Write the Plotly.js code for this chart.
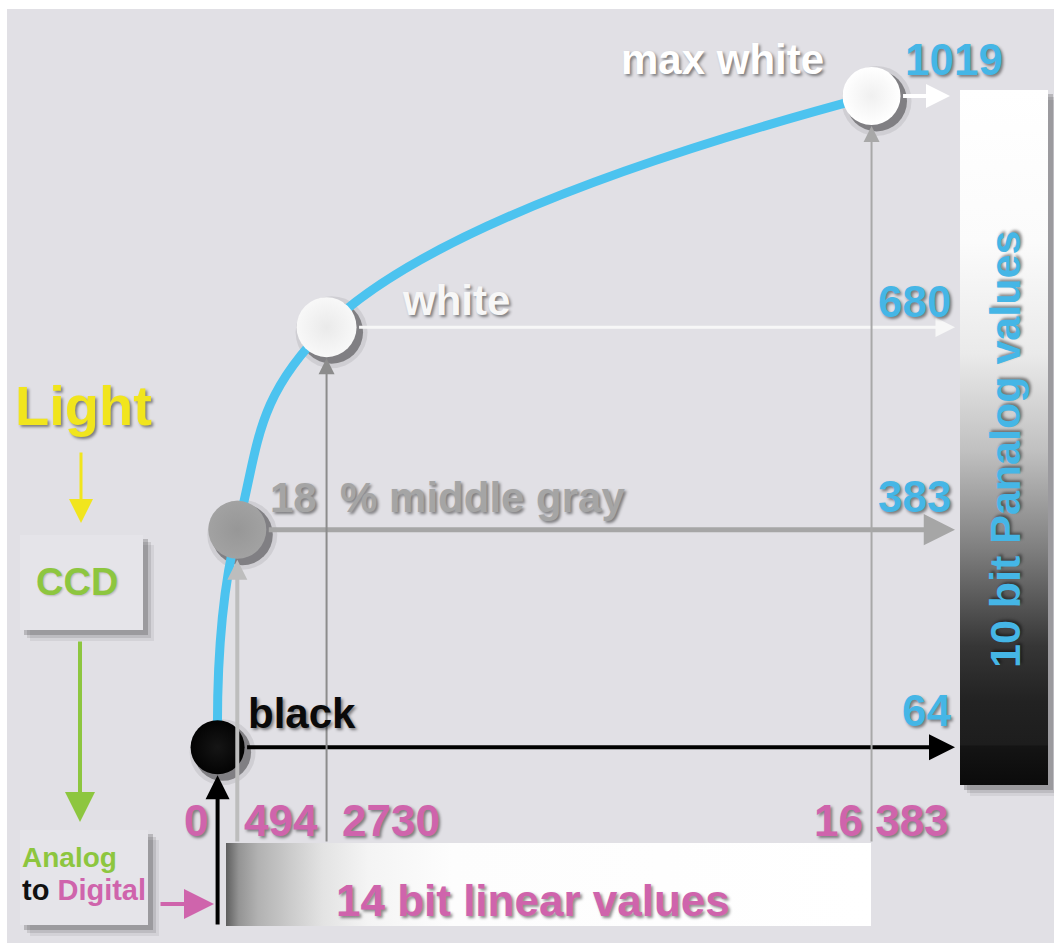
<!DOCTYPE html>
<html>
<head>
<meta charset="utf-8">
<script src="https://cdn.plot.ly/plotly-3.0.1.min.js"></script>
<style>html,body{margin:0;padding:0;background:#fff;}#chart{width:1054px;height:943px;}</style>
</head>
<body>
<div id="chart"></div>
<script>
// ---------- data ----------
const pointNames = ['black', '18  % middle gray', 'white', 'max white'];
const linearValues = [0, 494, 2730, 16383];          // 14 bit linear values
const panalogValues = [64, 383, 680, 1019];          // 10 bit Panalog values
const linearTickLabels = ['0', '494', '2730', '16 383'];
const panalogTickLabels = ['64', '383', '680', '1019'];

// ---------- styles ----------
const W = 1054, H = 943;
const XR = [-5451, 20954], YR = [-222.9, 1159.6];
const FONT = 'Liberation Sans, Arial, Helvetica, sans-serif';
const BLUE = '#45b6e6', PINK = '#cf64ac', GREEN = '#8dc63f', YELLOW = '#f1e51d';
const dotSizes = [54, 58, 60, 58];
const dotColors = ['#030303', '#a2a2a2', '#f8f8f8', '#ffffff'];
const dotEdge = ['#151515', '#979797', '#eaeaea', '#f0f0f0'];
const labelColors = ['#0a0a0a', '#a5a5a5', '#f7f7f7', '#ffffff'];
const labelOffsets = [[28, 34, 'left'], [31, 32, 'left'], [73, 27, 'left'], [-46, 36, 'right']];
const hArrowStyle = [['#000000', 4, 1.3], ['#a6a6a6', 5, 1.25], ['#f7f7f7', 3, 1.3], ['#ffffff', 4, 1.2]];
const vArrowStyle = [['#000000', 4, 1.2], ['#bdbdbd', 4, 1.0], ['#8c8c8c', 2, 1.6], ['#a8a8a8', 2, 1.6]];
const SHADOW = '2px 2px 3px rgba(0,0,0,0.45)';

// pixel -> data / paper helpers (plot area = whole figure)
const dx = px => XR[0] + px / W * (XR[1] - XR[0]);
const dy = py => YR[1] - py / H * (YR[1] - YR[0]);
const fx = px => px / W;
const fy = py => 1 - py / H;

// shadow axes: shifted so that marks appear offset down-right
const sh = 5;
const XR2 = [XR[0] - sh * (XR[1] - XR[0]) / W, XR[1] - sh * (XR[1] - XR[0]) / W];
const YR2 = [YR[0] + sh * (YR[1] - YR[0]) / H, YR[1] + sh * (YR[1] - YR[0]) / H];

function rect(px0, py0, px1, py1, color) {
  return {type: 'rect', xref: 'paper', yref: 'paper', layer: 'below',
    x0: fx(px0), x1: fx(px1), y0: fy(py1), y1: fy(py0),
    fillcolor: color, line: {width: 0}};
}
function softShadow(px0, py0, px1, py1) {
  return [
    rect(px0 + 10, py0 + 10, px1 + 11, py1 + 11, 'rgba(0,0,0,0.06)'),
    rect(px0 + 7, py0 + 7, px1 + 8, py1 + 8, 'rgba(0,0,0,0.10)'),
    rect(px0 + 4, py0 + 4, px1 + 5, py1 + 5, 'rgba(0,0,0,0.18)')
  ];
}

const shapes = [
  rect(7, 9, W, H, '#e1e0e5'),
  ...softShadow(960, 90, 1048, 785),
  ...softShadow(20, 535, 143, 630),
  rect(20, 535, 143, 630, '#e5e4e9'),
  ...softShadow(20, 830, 148, 925),
  rect(20, 830, 148, 925, '#e5e4e9')
];

// ---------- traces ----------
const traces = [];
// Panalog gradient bar (vertical)
traces.push({
  type: 'scatter', mode: 'none', xaxis: 'x', yaxis: 'y', hoverinfo: 'skip', showlegend: false,
  x: [dx(960), dx(1048), dx(1048), dx(960), dx(960)],
  y: [dy(90), dy(90), dy(785), dy(785), dy(90)],
  fill: 'toself',
  fillgradient: {type: 'vertical', colorscale: [
    [0, '#0b0b0b'], [0.056, '#141414'], [0.058, '#1d1d1d'], [0.12, '#222222'],
    [0.2, '#363636'], [0.34, '#7f7f7f'], [0.48, '#c0c0c0'], [0.62, '#eaeaea'],
    [0.78, '#fbfbfb'], [1, '#ffffff']]}
});
// linear gradient bar (horizontal)
traces.push({
  type: 'scatter', mode: 'none', xaxis: 'x', yaxis: 'y', hoverinfo: 'skip', showlegend: false,
  x: [dx(226), dx(871), dx(871), dx(226), dx(226)],
  y: [dy(843), dy(843), dy(926), dy(926), dy(843)],
  fill: 'toself',
  fillgradient: {type: 'horizontal', colorscale: [
    [0, '#5e5e5e'], [0.02, '#949494'], [0.05, '#b2b2b2'], [0.1, '#cbcbcb'],
    [0.15, '#e3e3e3'], [0.22, '#f4f4f4'], [0.35, '#fdfdfd'], [1, '#ffffff']]}
});
// dot shadows
traces.push({
  type: 'scatter', mode: 'markers', xaxis: 'x2', yaxis: 'y2', hoverinfo: 'skip', showlegend: false,
  x: linearValues, y: panalogValues,
  marker: {size: dotSizes.map(s => s + 12), color: 'rgba(0,0,0,0.08)', opacity: 1, line: {width: 0}}
});
traces.push({
  type: 'scatter', mode: 'markers', xaxis: 'x2', yaxis: 'y2', hoverinfo: 'skip', showlegend: false,
  x: linearValues, y: panalogValues,
  marker: {size: dotSizes.map(s => s + 3), color: 'rgba(0,0,0,0.38)', opacity: 1, line: {width: 0}}
});
// the curve
traces.push({
  type: 'scatter', mode: 'lines', xaxis: 'x3', yaxis: 'y3', hoverinfo: 'skip', showlegend: false,
  x: linearValues, y: panalogValues,
  line: {color: '#4cc3ef', width: 9, shape: 'spline', smoothing: 1.2}
});
// the dots
traces.push({
  type: 'scatter', mode: 'markers', xaxis: 'x3', yaxis: 'y3', hoverinfo: 'skip', showlegend: false,
  x: linearValues, y: panalogValues, text: pointNames,
  marker: {size: dotSizes, color: dotColors, opacity: 1, line: {width: 0},
    gradient: {type: 'radial', color: dotEdge}}
});

// ---------- annotations ----------
const ann = [];
function txt(o) {
  return Object.assign({showarrow: false, font: {family: FONT, size: 42, weight: 'bold', color: '#000', shadow: SHADOW}}, o);
}
// horizontal arrows to the Panalog bar
const hTip = [955, 955, 955, 950];
linearValues.forEach((v, i) => {
  ann.push({x: dx(hTip[i]), y: panalogValues[i], xref: 'x', yref: 'y',
    ax: v, ay: panalogValues[i], axref: 'x', ayref: 'y', text: '', showarrow: true,
    arrowhead: 2, arrowsize: hArrowStyle[i][2], arrowwidth: hArrowStyle[i][1], arrowcolor: hArrowStyle[i][0],
    startstandoff: dotSizes[i] / 2 + 1});
});
// vertical arrows from the linear bar
linearValues.forEach((v, i) => {
  ann.push({x: v, y: panalogValues[i], xref: 'x', yref: 'y',
    ax: v, ay: dy(i === 0 ? 926 : 843), axref: 'x', ayref: 'y', text: '', showarrow: true,
    arrowhead: 2, arrowsize: vArrowStyle[i][2], arrowwidth: vArrowStyle[i][1], arrowcolor: vArrowStyle[i][0],
    standoff: dotSizes[i] / 2 + 1});
});
// point labels
pointNames.forEach((n, i) => {
  ann.push(txt({text: n, x: linearValues[i], y: panalogValues[i], xref: 'x', yref: 'y',
    xanchor: labelOffsets[i][2], yanchor: 'middle', xshift: labelOffsets[i][0], yshift: labelOffsets[i][1],
    font: {family: FONT, size: 42, weight: 'bold', color: labelColors[i], shadow: SHADOW}}));
});
// Panalog value labels (blue)
const blueRight = [953, 953, 953, 1005];
const blueShift = [37, 33, 26, 36];
panalogTickLabels.forEach((t, i) => {
  ann.push(txt({text: t, x: fx(blueRight[i]), xref: 'paper', y: panalogValues[i], yref: 'y',
    xanchor: 'right', yanchor: 'middle', yshift: blueShift[i],
    font: {family: FONT, size: 44, weight: 'bold', color: BLUE, shadow: SHADOW}}));
});
// linear value labels (pink)
const pinkAnchor = [['right', -8], ['left', 5], ['left', 13], ['center', 10]];
linearTickLabels.forEach((t, i) => {
  ann.push(txt({text: t, x: linearValues[i], xref: 'x', y: fy(820), yref: 'paper',
    xanchor: pinkAnchor[i][0], yanchor: 'middle', xshift: pinkAnchor[i][1],
    font: {family: FONT, size: 44, weight: 'bold', color: PINK, shadow: SHADOW}}));
});
// axis titles
ann.push(txt({text: '10 bit Panalog values', x: fx(1005), y: fy(450), xref: 'paper', yref: 'paper',
  textangle: -90, xanchor: 'center', yanchor: 'middle',
  font: {family: FONT, size: 43, weight: 'bold', color: BLUE, shadow: SHADOW}}));
ann.push(txt({text: '14 bit linear values', x: fx(533), y: fy(900), xref: 'paper', yref: 'paper',
  xanchor: 'center', yanchor: 'middle',
  font: {family: FONT, size: 44, weight: 'bold', color: PINK, shadow: SHADOW}}));
// left flow
ann.push(txt({text: 'Light', x: fx(83), y: fy(405), xref: 'paper', yref: 'paper',
  xanchor: 'center', yanchor: 'middle',
  font: {family: FONT, size: 56, weight: 'bold', color: YELLOW, shadow: SHADOW}}));
ann.push(txt({text: 'CCD', x: fx(77), y: fy(582), xref: 'paper', yref: 'paper',
  xanchor: 'center', yanchor: 'middle',
  font: {family: FONT, size: 38, weight: 'bold', color: GREEN, shadow: '1px 1px 2px rgba(0,0,0,0.2)'}}));
ann.push(txt({text: 'Analog', x: fx(20), y: fy(857), xref: 'paper', yref: 'paper',
  xanchor: 'left', yanchor: 'middle',
  font: {family: FONT, size: 28, weight: 'bold', color: GREEN, shadow: 'none'}}));
ann.push(txt({text: '<span style="color:#111111">to</span> <span style="color:' + PINK + '">Digital</span>',
  x: fx(20), y: fy(890), xref: 'paper', yref: 'paper', xanchor: 'left', yanchor: 'middle',
  font: {family: FONT, size: 29, weight: 'bold', color: '#111', shadow: 'none'}}));
// flow arrows
ann.push({x: fx(81), y: fy(523), xref: 'paper', yref: 'paper', ax: 0, ay: -72, text: '',
  showarrow: true, arrowhead: 2, arrowsize: 1.6, arrowwidth: 3, arrowcolor: YELLOW});
ann.push({x: fx(80), y: fy(822), xref: 'paper', yref: 'paper', ax: 0, ay: -182, text: '',
  showarrow: true, arrowhead: 2, arrowsize: 1.5, arrowwidth: 4, arrowcolor: GREEN});
ann.push({x: fx(214), y: fy(904), xref: 'paper', yref: 'paper', ax: -55, ay: 0, text: '',
  showarrow: true, arrowhead: 2, arrowsize: 1.5, arrowwidth: 4, arrowcolor: PINK});

const ax = r => ({range: r, visible: false, fixedrange: true, showgrid: false, zeroline: false});
const layout = {
  width: W, height: H, margin: {l: 0, r: 0, t: 0, b: 0, pad: 0},
  paper_bgcolor: '#ffffff', plot_bgcolor: 'rgba(0,0,0,0)', showlegend: false,
  xaxis: ax(XR), yaxis: ax(YR),
  xaxis2: Object.assign(ax(XR2), {overlaying: 'x'}), yaxis2: Object.assign(ax(YR2), {overlaying: 'y'}),
  xaxis3: Object.assign(ax(XR), {overlaying: 'x'}), yaxis3: Object.assign(ax(YR), {overlaying: 'y'}),
  shapes: shapes, annotations: ann, hovermode: false
};
Plotly.newPlot('chart', traces, layout, {displayModeBar: false, staticPlot: true});
</script>
</body>
</html>
